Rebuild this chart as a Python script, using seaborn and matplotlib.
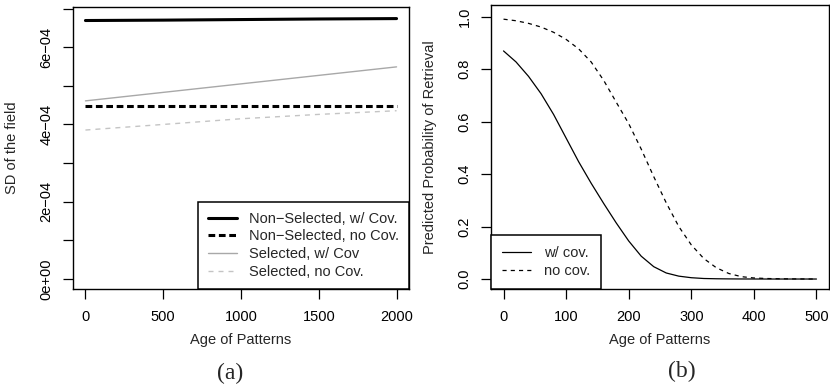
import numpy as np
import pandas as pd
import seaborn as sns
import matplotlib.pyplot as plt

sns.set_style("white")
plt.rcParams['font.family'] = ['Liberation Sans', 'DejaVu Sans']
plt.rcParams['axes.unicode_minus'] = True

# Panel (a): SD of the field vs age of patterns
age_a = [0, 500, 1000, 1500, 2000]
ns_cov = [6.69e-4, 6.70e-4, 6.715e-4, 6.73e-4, 6.74e-4]
ns_nocov = [4.48e-4, 4.48e-4, 4.48e-4, 4.48e-4, 4.48e-4]
sel_cov = [4.61e-4, 4.83e-4, 5.05e-4, 5.27e-4, 5.49e-4]
sel_nocov = [3.855e-4, 4.00e-4, 4.147e-4, 4.26e-4, 4.355e-4]

# Panel (b): predicted probability of retrieval
age_b = [0, 20, 40, 60, 80, 100, 120, 140, 160, 180, 200, 220, 240, 260,
         280, 300, 320, 340, 360, 380, 400, 420, 440, 460, 480, 500]
p_cov = [0.869, 0.827, 0.772, 0.706, 0.627, 0.537, 0.447, 0.365, 0.288, 0.214,
         0.145, 0.087, 0.047, 0.023, 0.011, 0.005, 0.002, 0.001, 0.0005, 0.0002,
         0.0001, 0.0, 0.0, 0.0, 0.0, 0.0]
p_nocov = [0.990, 0.984, 0.974, 0.960, 0.940, 0.913, 0.877, 0.827, 0.757, 0.674,
           0.592, 0.495, 0.390, 0.290, 0.200, 0.130, 0.078, 0.043, 0.021, 0.009,
           0.004, 0.002, 0.001, 0.0005, 0.0002, 0.0]

fig = plt.figure(figsize=(8.3, 3.88), dpi=100)
ax1 = fig.add_axes([73 / 830, 99 / 388, 336 / 830, 282 / 388])
ax2 = fig.add_axes([491 / 830, 99 / 388, 338 / 830, 284 / 388])

fs = 10.5

# --- panel (a)
sns.lineplot(x=age_a, y=ns_cov, ax=ax1, color='black', linewidth=2.2,
             label='Non\u2212Selected, w/ Cov.')
sns.lineplot(x=age_a, y=ns_nocov, ax=ax1, color='black', linewidth=2.2,
             linestyle=(0, (2.2, 1.2)), label='Non\u2212Selected, no Cov.')
sns.lineplot(x=age_a, y=sel_cov, ax=ax1, color='#a8a8a8', linewidth=1.0,
             label='Selected, w/ Cov')
sns.lineplot(x=age_a, y=sel_nocov, ax=ax1, color='#c4c4c4', linewidth=1.0,
             linestyle=(0, (3.6, 3.6)), label='Selected, no Cov.')

ax1.set_xlim(-80, 2080)
ax1.set_ylim(-0.26e-4, 7.04e-4)
ax1.set_xticks([0, 500, 1000, 1500, 2000])
ax1.set_xticklabels(['0', '500', '1000', '1500', '2000'])
yt = [i * 1e-4 for i in range(8)]
ax1.set_yticks(yt)
ax1.set_yticklabels(['0e+00', '', '2e\u221204', '', '4e\u221204', '', '6e\u221204', ''])
ax1.set_xlabel('Age of Patterns', fontsize=fs, va='center')
ax1.set_ylabel('SD of the field', fontsize=fs, va='center', ha='center')
ax1.xaxis.set_label_coords(0.5, -0.181)
ax1.yaxis.set_label_coords(-0.183, 0.5)

leg1 = ax1.legend(loc='lower right', borderaxespad=0, fontsize=fs,
                  fancybox=False, framealpha=1, edgecolor='black',
                  handlelength=2.0, handletextpad=0.8, labelspacing=0.25,
                  borderpad=0.7)
leg1.get_frame().set_linewidth(1.1)

# --- panel (b)
sns.lineplot(x=age_b, y=p_cov, ax=ax2, color='black', linewidth=0.9,
             label='w/ cov.')
sns.lineplot(x=age_b, y=p_nocov, ax=ax2, color='black', linewidth=0.9,
             linestyle=(0, (3.3, 3.3)), label='no cov.')

ax2.set_xlim(-20, 520)
ax2.set_ylim(-0.038, 1.044)
ax2.set_xticks([0, 100, 200, 300, 400, 500])
ax2.set_yticks([0, 0.2, 0.4, 0.6, 0.8, 1.0])
ax2.set_yticklabels(['0.0', '0.2', '0.4', '0.6', '0.8', '1.0'])
ax2.set_xlabel('Age of Patterns', fontsize=fs, va='center')
ax2.set_ylabel('Predicted Probability of Retrieval', fontsize=fs, va='center', ha='center')
ax2.xaxis.set_label_coords(0.5, -0.18)
ax2.yaxis.set_label_coords(-0.18, 0.5)

leg2 = ax2.legend(loc='lower left', borderaxespad=0, fontsize=fs,
                  fancybox=False, framealpha=1, edgecolor='black',
                  handlelength=2.0, handletextpad=0.9, labelspacing=0.25,
                  borderpad=0.75)
leg2.get_frame().set_linewidth(1.1)

for ax in (ax1, ax2):
    for s in ax.spines.values():
        s.set_visible(True)
        s.set_color('black')
        s.set_linewidth(1.0)
    ax.tick_params(axis='both', direction='out', length=7, width=0.9,
                   colors='black', labelsize=fs, pad=8,
                   bottom=True, left=True)
    for lab in ax.get_yticklabels():
        lab.set_rotation(90)
        lab.set_va('center')
        lab.set_ha('center')
    ax.tick_params(axis='y', pad=12)

fig.text(230 / 830, 1 - 373 / 388, '(a)', ha='center', va='center',
         fontsize=17, family=['Liberation Serif', 'DejaVu Serif'])
fig.text(682 / 830, 1 - 371 / 388, '(b)', ha='center', va='center',
         fontsize=17, family=['Liberation Serif', 'DejaVu Serif'])

fig.savefig('out.png', dpi=100)
